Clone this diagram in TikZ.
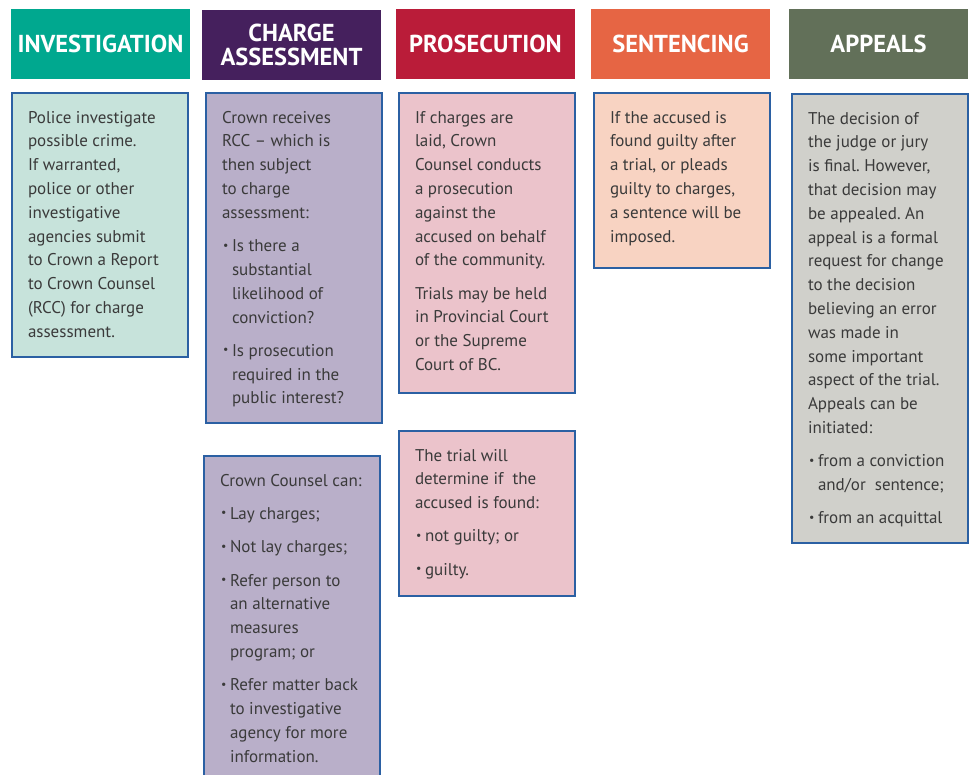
\documentclass[tikz,border=0pt]{standalone}
\usepackage{fontspec}
\setmainfont{PT Sans}
\usepackage{graphicx}
\usepackage{tikz}
\usetikzlibrary{positioning,calc}
\frenchspacing
\definecolor{invDark}{HTML}{00A88F}
\definecolor{invLight}{HTML}{C7E3DB}
\definecolor{chgDark}{HTML}{45205D}
\definecolor{chgLight}{HTML}{B9AFC9}
\definecolor{proDark}{HTML}{BA1C39}
\definecolor{proLight}{HTML}{EBC3CB}
\definecolor{senDark}{HTML}{E66544}
\definecolor{senLight}{HTML}{F8D3C2}
\definecolor{appDark}{HTML}{627059}
\definecolor{appLight}{HTML}{D0D0CB}
\definecolor{boxBorder}{HTML}{2B60A3}
\definecolor{txtGrey}{HTML}{3A3A3A}
\newcommand{\itm}{\par\vspace{9.5pt}\noindent\hangindent=10pt\hangafter=1\makebox[10pt][l]{\hspace{1pt}\raisebox{.15em}{\scalebox{.7}{\textbullet}}}}
\newcommand{\bx}[2]{\parbox[t][#1pt][t]{144pt}{#2}}
\tikzset{
	header/.style = {fill=#1, text=white, font=\bfseries\fontsize{24.5}{24.5}\selectfont, minimum width=179pt, minimum height=70pt, align=center, anchor=north west, inner sep=0pt, outer sep=0pt},
	body/.style = {draw=boxBorder, line width=2pt, fill=#1, text=txtGrey, font=\fontsize{17}{23.8}\selectfont, anchor=north west, inner xsep=16pt, inner ysep=18pt, outer sep=0pt}
}
\begin{document}
\begin{tikzpicture}[x=1pt,y=-1pt]
		\fill[white] (0,0) rectangle (969,774);
		\useasboundingbox (0,0) rectangle (969,774);
		\node [header=invDark] (hInv) at (11,9) {INVESTIGATION};
		\node [header=chgDark] (hChg) at (202,10) {CHARGE\\ASSESSMENT};
		\node [header=proDark] (hPro) at (396,9) {PROSECUTION};
		\node [header=senDark] (hSen) at (591,9) {SENTENCING};
		\node [header=appDark] (hApp) at (789,9) {APPEALS};

		\node [body=invLight] (bInv) at (12,93) {\bx{228}{Police investigate\newline possible crime.\newline If warranted,\newline police or other\newline investigative\newline agencies submit\newline to Crown a Report\newline to Crown Counsel\newline (RCC) for charge\newline assessment.}};
		\node [body=chgLight] (bChgA) at (206,93) {\bx{294}{Crown receives\newline RCC -- which is\newline then subject\newline to charge\newline assessment:
			\itm Is there a\newline substantial\newline likelihood of\newline conviction?
			\itm Is prosecution\newline required in the\newline public interest?}};
		\node [body=chgLight] (bChgB) at (204,456) {\bx{300}{Crown Counsel can:
			\itm Lay charges;
			\itm Not lay charges;
			\itm Refer person to\newline an alternative\newline measures\newline program; or
			\itm Refer matter back\newline to investigative\newline agency for more\newline information.}};
		\node [body=proLight] (bProA) at (399,93) {\bx{264}{If charges are\newline laid, Crown\newline Counsel conducts\newline a prosecution\newline against the\newline accused on behalf\newline of the community.\par\vspace{9.5pt}\noindent Trials may be held\newline in Provincial Court\newline or the Supreme\newline Court of BC.}};
		\node [body=proLight] (bProB) at (399,431) {\bx{129}{The trial will\newline determine if\ \ the\newline accused is found:
			\itm not guilty; or
			\itm guilty.}};
		\node [body=senLight] (bSen) at (594,93) {\bx{139}{If the accused is\newline found guilty after\newline a trial, or pleads\newline guilty to charges,\newline a sentence will be\newline imposed.}};
		\node [body=appLight] (bApp) at (792,94) {\bx{413}{The decision of\newline the judge or jury\newline is final. However,\newline that decision may\newline be appealed. An\newline appeal is a formal\newline request for change\newline to the decision\newline believing an error\newline was made in\newline some important\newline aspect of the trial.\newline Appeals can be\newline initiated:
			\itm from a conviction\newline and/or\ \ sentence;
			\itm from an acquittal}};
	\end{tikzpicture}
\end{document}
